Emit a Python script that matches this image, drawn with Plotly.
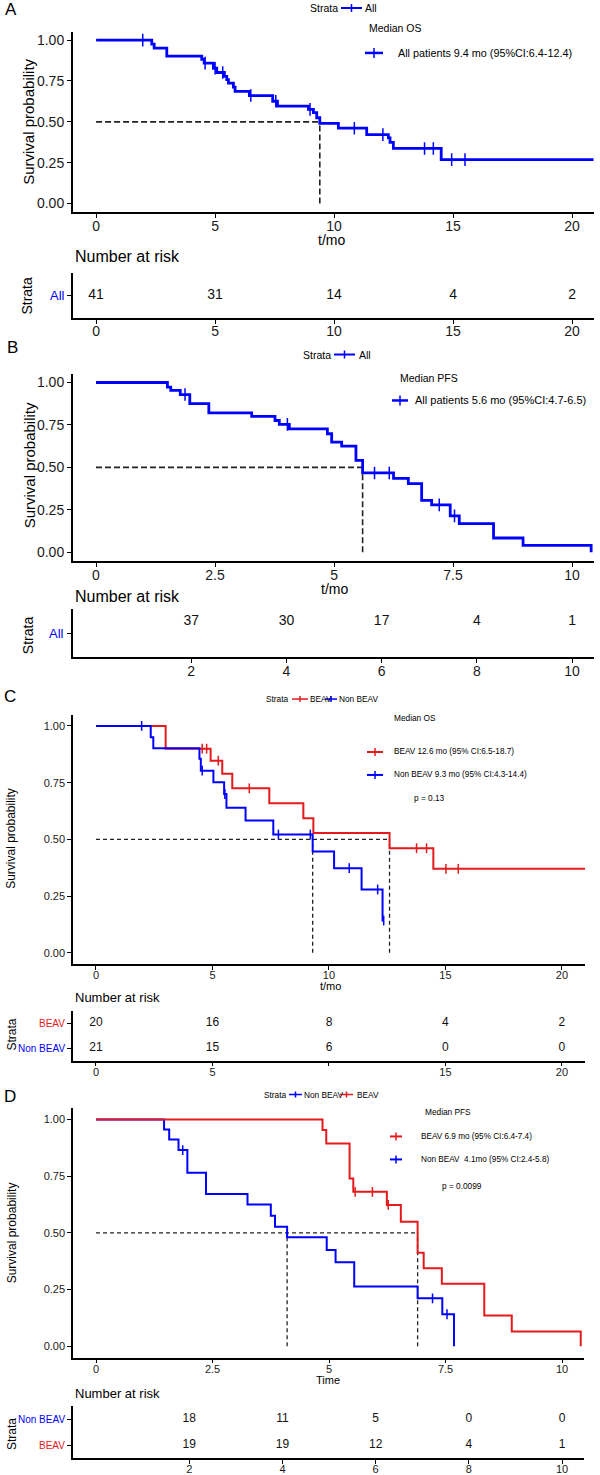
import plotly.graph_objects as go

W, H = 600, 1475
def X(px): return px / W
def Y(py): return 1 - py / H

BLUE = "#0000FF"
RED = "#E41A1C"
NARROW = "Liberation Sans Narrow, Arial Narrow, Liberation Sans, Arial"
BASE = "Liberation Sans, Arial, sans-serif"

# ---------------- data ----------------
# Panel A (OS, all patients)
A_time = [0, 2.34, 2.44, 2.97, 4.44, 4.54, 4.93, 5.07, 5.39, 5.49, 5.56, 5.77, 5.84, 6.44,
          7.42, 7.62, 8.92, 9.13, 9.27, 9.4, 10.18, 11.37, 12.28, 12.35, 12.49, 14.5, 20.9]
A_surv = [1.0, 0.976, 0.951, 0.902, 0.883, 0.859, 0.828, 0.802, 0.778, 0.758, 0.737, 0.713, 0.687, 0.661,
          0.626, 0.596, 0.576, 0.556, 0.525, 0.491, 0.461, 0.422, 0.402, 0.374, 0.337, 0.269, 0.269]
A_cens = [1.96, 4.58, 5.0, 5.32, 6.5, 7.55, 8.99, 10.85, 12.05, 13.8, 14.17, 14.94, 15.5]
A_median = [9.4]
A_risk_t = [0, 5, 10, 15, 20]
A_risk = [41, 31, 14, 4, 2]

# Panel B (PFS, all patients)
B_time = [0, 1.5, 1.57, 1.77, 1.97, 2.37, 3.27, 3.76, 3.85, 4.06, 4.86, 4.95, 5.16, 5.46, 5.6,
          6.25, 6.56, 6.84, 7.05, 7.44, 7.63, 8.35, 8.97, 10.4]
B_surv = [1.0, 0.973, 0.953, 0.929, 0.875, 0.821, 0.800, 0.776, 0.753, 0.727, 0.698, 0.649, 0.625, 0.541, 0.467,
          0.435, 0.404, 0.306, 0.279, 0.214, 0.169, 0.084, 0.041, 0.0]
B_cens = [1.87, 4.02, 5.85, 6.16, 7.21, 7.53]
B_median = [5.6]
B_risk_t = [2, 4, 6, 8, 10]
B_risk = [37, 30, 17, 4, 1]

# Panel C (OS by group)
CN_time = [0, 2.35, 2.46, 4.44, 4.5, 5.04, 5.5, 5.6, 6.42, 7.61, 9.3, 10.22, 11.4, 12.3, 12.35]
CN_surv = [1.0, 0.950, 0.902, 0.855, 0.803, 0.752, 0.700, 0.639, 0.583, 0.521, 0.446, 0.373, 0.279, 0.142, 0.142]
CN_cens = [1.96, 4.56, 5.53, 7.83, 9.2, 10.87, 12.09, 12.35]
CB_time = [0, 2.99, 4.92, 5.42, 5.85, 7.44, 8.9, 9.33, 12.6, 14.48, 21.0]
CB_surv = [1.0, 0.9, 0.847, 0.789, 0.725, 0.659, 0.593, 0.528, 0.461, 0.370, 0.370]
CB_cens = [4.56, 4.75, 5.25, 6.58, 13.76, 14.19, 15.02, 15.55]
C_median = [9.3, 12.6]
C_risk_t = [0, 5, 10, 15, 20]
C_risk_beav = [20, 16, 8, 4, 2]
C_risk_non = [21, 15, 6, 0, 0]

# Panel D (PFS by group)
DN_time = [0, 1.46, 1.57, 1.77, 1.96, 2.36, 3.25, 3.75, 3.84, 4.1, 4.95, 5.14, 5.54, 6.9, 7.43, 7.68]
DN_surv = [1.0, 0.956, 0.912, 0.865, 0.765, 0.671, 0.625, 0.575, 0.527, 0.480, 0.424, 0.370, 0.263, 0.211, 0.141, 0.0]
DN_cens = [1.86, 7.22, 7.53]
DB_time = [0, 4.86, 4.94, 5.44, 5.52, 6.24, 6.54, 6.9, 7.03, 7.42, 8.33, 8.92, 10.4]
DB_surv = [1.0, 0.953, 0.894, 0.740, 0.681, 0.623, 0.549, 0.412, 0.344, 0.275, 0.135, 0.065, 0.0]
DB_cens = [5.56, 5.93, 6.27]
D_median = [4.1, 6.9]
D_risk_t = [2, 4, 6, 8, 10]
D_risk_non = [18, 11, 5, 0, 0]
D_risk_beav = [19, 19, 12, 4, 1]

Y_ticks = [0, 0.25, 0.5, 0.75, 1.0]
Y_ticktext = ["0.00", "0.25", "0.50", "0.75", "1.00"]

# ---------------- figure ----------------
fig = go.Figure()

def step_at(ts, ss, t):
    v = ss[0]
    for a, b in zip(ts, ss):
        if a <= t:
            v = b
    return v

def km(ts, ss, cens, color, width, msize, xa, ya):
    fig.add_trace(go.Scatter(x=ts, y=ss, mode="lines", line=dict(color=color, width=width, shape="hv"),
                             xaxis=xa, yaxis=ya, showlegend=False, hoverinfo="skip"))
    fig.add_trace(go.Scatter(x=cens, y=[step_at(ts, ss, c) for c in cens], mode="markers",
                             marker=dict(symbol="line-ns-open", size=msize, color=color,
                                         line=dict(color=color, width=1.5)),
                             xaxis=xa, yaxis=ya, showlegend=False, hoverinfo="skip"))

def median_lines(meds, xa, ya, width, dash):
    fig.add_trace(go.Scatter(x=[0, max(meds)], y=[0.5, 0.5], mode="lines",
                             line=dict(color="#222", width=width, dash=dash),
                             xaxis=xa, yaxis=ya, showlegend=False, hoverinfo="skip"))
    for m in meds:
        fig.add_trace(go.Scatter(x=[m, m], y=[0, 0.5], mode="lines",
                                 line=dict(color="#222", width=width, dash=dash),
                                 xaxis=xa, yaxis=ya, showlegend=False, hoverinfo="skip"))

def risk_text(ts, vals, row, size, xa, ya):
    fig.add_trace(go.Scatter(x=ts, y=[row] * len(ts), mode="text", text=[str(v) for v in vals],
                             textfont=dict(size=size, color="#111", family=BASE), textposition="middle center",
                             xaxis=xa, yaxis=ya, showlegend=False, hoverinfo="skip"))

# Panel A
median_lines(A_median, "x", "y", 1.6, "6px,3px")
km(A_time, A_surv, A_cens, BLUE, 2.8, 9, "x", "y")
risk_text(A_risk_t, A_risk, 1, 14, "x5", "y5")
# Panel B
median_lines(B_median, "x2", "y2", 1.6, "6px,3px")
km(B_time, B_surv, B_cens, BLUE, 2.8, 9, "x2", "y2")
risk_text(B_risk_t, B_risk, 1.25, 14, "x6", "y6")
# Panel C
median_lines(C_median, "x3", "y3", 1.3, "4px,3px")
km(CB_time, CB_surv, CB_cens, RED, 2.0, 7, "x3", "y3")
km(CN_time, CN_surv, CN_cens, BLUE, 2.0, 7, "x3", "y3")
risk_text(C_risk_t, C_risk_beav, 2, 12, "x7", "y7")
risk_text(C_risk_t, C_risk_non, 1, 12, "x7", "y7")
# Panel D
median_lines(D_median, "x4", "y4", 1.3, "4px,3px")
km(DN_time, DN_surv, DN_cens, BLUE, 2.0, 7, "x4", "y4")
km(DB_time, DB_surv, DB_cens, RED, 2.0, 7, "x4", "y4")
risk_text(D_risk_t, D_risk_non, 2, 12, "x8", "y8")
risk_text(D_risk_t, D_risk_beav, 1, 12, "x8", "y8")

def axis(domain, rng, tickvals, ticktext, fs, lw, anchor, showlabels=True, standoff=0):
    d = dict(domain=domain, range=rng, tickvals=tickvals, ticktext=ticktext, showline=True,
             linecolor="black", linewidth=lw, ticks="outside", ticklen=4, tickwidth=max(1, lw * 0.7),
             tickcolor="black", showgrid=False, zeroline=False, showticklabels=showlabels,
             tickfont=dict(size=fs, color="#1a1a1a", family=BASE), anchor=anchor, fixedrange=True)
    if standoff:
        d["ticklabelstandoff"] = standoff
    return d

A_xr = [-0.97, 20.92]
B_xr = [-0.483, 10.46]
C_xr = [-0.987, 20.99]
D_xr = [-0.494, 10.47]
xt20 = [0, 5, 10, 15, 20]
xt10 = [0, 2.5, 5, 7.5, 10]
xt10l = ["0", "2.5", "5", "7.5", "10"]
rt10 = [2, 4, 6, 8, 10]
SO = -4

fig.update_layout(
    width=W, height=H, autosize=False, margin=dict(l=0, r=0, t=0, b=0),
    paper_bgcolor="white", plot_bgcolor="white", showlegend=False,
    font=dict(family=BASE, color="black"),
    xaxis=axis([X(73), X(594)], A_xr, xt20, [str(v) for v in xt20], 14, 2, "y", standoff=SO),
    yaxis=axis([Y(212), Y(32)], [-0.05, 1.05], Y_ticks, Y_ticktext, 14, 2, "x"),
    xaxis2=axis([X(73), X(594)], B_xr, xt10, xt10l, 14, 2, "y2", standoff=SO),
    yaxis2=axis([Y(561.5), Y(374.5)], [-0.05, 1.05], Y_ticks, Y_ticktext, 14, 2, "x2"),
    xaxis3=axis([X(73), X(585)], C_xr, xt20, [str(v) for v in xt20], 11, 1.5, "y3", standoff=SO),
    yaxis3=axis([Y(965.4), Y(715.6)], [-0.05, 1.05], Y_ticks, Y_ticktext, 11, 1.5, "x3"),
    xaxis4=axis([X(73), X(584)], D_xr, xt10, xt10l, 11, 1.5, "y4", standoff=SO),
    yaxis4=axis([Y(1359.4), Y(1109.6)], [-0.05, 1.05], Y_ticks, Y_ticktext, 11, 1.5, "x4"),
    xaxis5=axis([X(73), X(594)], A_xr, xt20, [str(v) for v in xt20], 14, 2, "y5", standoff=SO),
    yaxis5=axis([Y(318), Y(273)], [0.5, 1.5], [1], [""], 13, 2, "x5", False),
    xaxis6=axis([X(73), X(594)], B_xr, rt10, [str(v) for v in rt10], 14, 2, "y6", standoff=SO),
    yaxis6=axis([Y(658), Y(610)], [0.5, 1.5], [1], [""], 13, 2, "x6", False),
    xaxis7=axis([X(73), X(585)], C_xr, xt20, ["0", "5", "", "15", "20"], 11, 1.5, "y7", standoff=SO),
    yaxis7=axis([Y(1062), Y(1012)], [0.5, 2.5], [1, 2], ["", ""], 11, 1.5, "x7", False),
    xaxis8=axis([X(73), X(584)], D_xr, rt10, [str(v) for v in rt10], 11, 1.5, "y8", standoff=SO),
    yaxis8=axis([Y(1460), Y(1408)], [0.5, 2.5], [1, 2], ["", ""], 11, 1.5, "x8", False),
)

ann = []
shapes = []

def txt(s, px, py, size, xanchor="center", color="black", angle=0, family=BASE):
    ann.append(dict(text=s, x=X(px), y=Y(py), xref="paper", yref="paper", xanchor=xanchor, yanchor="middle",
                    showarrow=False, textangle=angle, font=dict(size=size, color=color, family=family)))

def rowlab(s, px, row, yref, size, color):
    ann.append(dict(text=s, x=X(px), y=row, xref="paper", yref=yref, xanchor="right", yanchor="middle",
                    showarrow=False, font=dict(size=size, color=color, family=NARROW)))

def key(x0, x1, py, color, lw, th):
    shapes.append(dict(type="line", xref="paper", yref="paper", x0=X(x0), x1=X(x1), y0=Y(py), y1=Y(py),
                       line=dict(color=color, width=lw)))
    xm = (x0 + x1) / 2
    shapes.append(dict(type="line", xref="paper", yref="paper", x0=X(xm), x1=X(xm), y0=Y(py - th), y1=Y(py + th),
                       line=dict(color=color, width=1.5)))

# Panel letters
txt("A", 11, 10, 17)
txt("B", 12, 348, 17)
txt("C", 10, 697, 17)
txt("D", 10, 1098, 17)

# Axis titles
txt("Survival probability", 29, 122, 15, angle=-90)
txt("Survival probability", 29, 466, 15, angle=-90)
txt("Survival probability", 11, 840, 12, angle=-90)
txt("Survival probability", 12, 1235, 12, angle=-90)
txt("t/mo", 331, 240, 14)
txt("t/mo", 334, 590, 14)
txt("t/mo", 330, 987, 11)
txt("Time", 328, 1382, 11)
txt("Number at risk", 73, 257, 16, xanchor="left")
txt("Number at risk", 73, 597, 16, xanchor="left")
txt("Number at risk", 73, 999, 13, xanchor="left")
txt("Number at risk", 73, 1395, 13, xanchor="left")
txt("Strata", 27, 296, 14, angle=-90)
txt("Strata", 28, 636, 14, angle=-90)
txt("Strata", 12, 1036, 12, angle=-90)
txt("Strata", 12, 1436, 12, angle=-90)

# Risk table row labels
rowlab("All", 67, 1, "y5", 13, BLUE)
rowlab("All", 66, 1, "y6", 13, BLUE)
rowlab("BEAV", 67, 2, "y7", 10, RED)
rowlab("Non BEAV", 67, 1, "y7", 10, BLUE)
rowlab("Non BEAV", 67, 2, "y8", 10, BLUE)
rowlab("BEAV", 67, 1, "y8", 10, RED)

# Top strata legends
txt("Strata", 340, 8, 10.5, xanchor="right", family=NARROW)
key(341, 362, 8, BLUE, 2, 4)
txt("All", 363, 8, 10.5, xanchor="left", family=NARROW)

txt("Strata", 333, 355, 10.5, xanchor="right", family=NARROW)
key(334, 355, 355, BLUE, 2, 4)
txt("All", 357, 355, 10.5, xanchor="left", family=NARROW)

txt("Strata", 291, 700, 8.3, xanchor="right", family=NARROW)
key(292, 308, 700, RED, 1.5, 3)
txt("BEAV", 308, 700, 8.3, xanchor="left", family=NARROW)
key(325, 337, 700, BLUE, 1.5, 3)
txt("Non BEAV", 337, 700, 8.3, xanchor="left", family=NARROW)

txt("Strata", 289, 1096, 8.3, xanchor="right", family=NARROW)
key(289, 302, 1096, BLUE, 1.5, 3)
txt("Non BEAV", 302, 1096, 8.3, xanchor="left", family=NARROW)
key(340, 353, 1096, RED, 1.5, 3)
txt("BEAV", 355, 1096, 8.3, xanchor="left", family=NARROW)

# Median legends
txt("Median OS", 367, 28, 10.5, xanchor="left", family=NARROW)
key(365, 383, 53, BLUE, 2.5, 5)
txt("All patients 9.4 mo (95%CI:6.4-12.4)", 396, 53, 10.8, xanchor="left", family=NARROW)

txt("Median PFS", 398, 379, 10.5, xanchor="left", family=NARROW)
key(392, 408, 401, BLUE, 2.5, 5)
txt("All patients 5.6 mo (95%CI:4.7-6.5)", 413, 401, 11, xanchor="left", family=NARROW)

txt("Median OS", 392, 719, 8.3, xanchor="left", family=NARROW)
key(367, 383, 753, RED, 2, 4)
txt("BEAV 12.6 mo (95% CI:6.5-18.7)", 392, 753, 8.2, xanchor="left", family=NARROW)
key(367, 383, 776, BLUE, 2, 4)
txt("Non BEAV 9.3 mo (95% CI:4.3-14.4)", 392, 776, 8.2, xanchor="left", family=NARROW)
txt("p = 0.13", 412, 799, 8.3, xanchor="left", family=NARROW)

txt("Median PFS", 423, 1114, 8.3, xanchor="left", family=NARROW)
key(390, 402, 1138, RED, 2, 4)
txt("BEAV 6.9 mo (95% CI:6.4-7.4)", 419, 1138, 8.2, xanchor="left", family=NARROW)
key(390, 402, 1161, BLUE, 2, 4)
txt("Non BEAV  4.1mo (95% CI:2.4-5.8)", 419, 1161, 8.2, xanchor="left", family=NARROW)
txt("p = 0.0099", 440, 1188, 8.3, xanchor="left", family=NARROW)

fig.update_layout(annotations=ann, shapes=shapes)
fig.write_html("out.html", config={"displayModeBar": False},
               post_script="document.body.style.margin='0';document.body.style.overflow='hidden';")
